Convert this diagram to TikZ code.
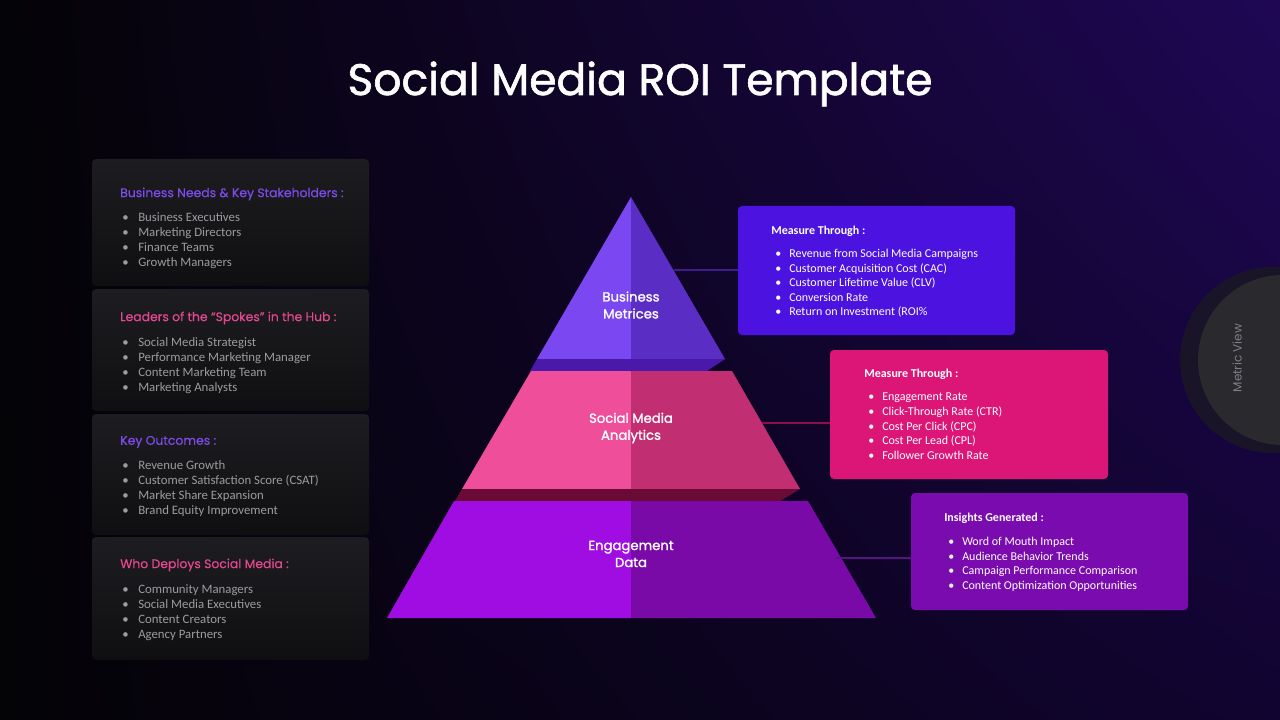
\documentclass[tikz,border=0pt]{standalone}
\usepackage{fontspec}
\setmainfont{Carlito}
\newfontfamily\headfont{Poppins}
\newfontfamily\midfont[FakeBold=1.4]{Poppins}
\newfontfamily\subfont[FakeBold=0.5]{Poppins}
\usepackage{xcolor}
\definecolor{cBgDark}{HTML}{040306}
\definecolor{cBgGlow}{HTML}{1F0755}
\definecolor{cBgLow}{HTML}{110430}
\definecolor{cCardTop}{HTML}{1D1C20}
\definecolor{cCardBot}{HTML}{0F0F11}
\definecolor{cHeadV}{HTML}{7C4BE8}
\definecolor{cHeadP}{HTML}{E2488F}
\definecolor{cItem}{HTML}{9C9CA0}
\definecolor{cBizL}{HTML}{7A47F0}
\definecolor{cBizR}{HTML}{5A2DC5}
\definecolor{cBizBand}{HTML}{4A19AA}
\definecolor{cSmaL}{HTML}{EF4E9B}
\definecolor{cSmaR}{HTML}{C22E72}
\definecolor{cSmaBand}{HTML}{6A0B35}
\definecolor{cEngL}{HTML}{A00DE2}
\definecolor{cEngR}{HTML}{7A0AA8}
\definecolor{cBizBox}{HTML}{4C12DF}
\definecolor{cSmaBox}{HTML}{DC1677}
\definecolor{cEngBox}{HTML}{7A0BAE}
\definecolor{cBizLine}{HTML}{3B1E8C}
\definecolor{cSmaLine}{HTML}{8A0F4C}
\definecolor{cEngLine}{HTML}{561480}
\definecolor{cRing}{HTML}{1A1429}
\definecolor{cDial}{HTML}{2A292D}
\definecolor{cDialText}{HTML}{7E7E86}
\usepackage{tikz}
\usetikzlibrary{positioning,fit,shadings}
\tikzset{
  card/.style={rounded corners=3pt,inner sep=0pt,
    top color=cCardTop,bottom color=cCardBot},
  card-head/.style={anchor=west,inner sep=0pt,
    font=\subfont\fontsize{9.3}{11}\selectfont},
  card-list/.style={anchor=north west,inner sep=0pt,align=left,text=cItem,
    font=\fontsize{9.6}{11.25}\selectfont},
  metric-box/.style={rounded corners=3pt,inner sep=0pt},
  box-head/.style={anchor=west,inner sep=0pt,text=white,
    font=\bfseries\fontsize{9}{11}\selectfont},
  box-list/.style={anchor=north west,inner sep=0pt,align=left,text=white,
    font=\fontsize{9}{10.9}\selectfont},
  tier-label/.style={align=center,text=white,inner sep=0pt,
    font=\midfont\fontsize{9.9}{12.75}\selectfont},
  link/.style={line width=1.2pt},
}
\newcommand{\cardit}[1]{\makebox[12pt][l]{\textbullet}#1}
\newcommand{\boxit}[1]{\makebox[10.5pt][l]{\textbullet}#1}

\begin{document}
\begin{tikzpicture}[x=0.75pt,y=-0.75pt]
  \useasboundingbox (0,0) rectangle (1280,720);
  \clip (0,0) rectangle (1280,720);
  % background
  \shade[upper left=cBgDark,upper right=cBgGlow,lower left=cBgDark,lower right=cBgLow]
    (0,0) rectangle (1280,720);

  \node[text=white,anchor=base,font=\midfont\fontsize{33}{38}\selectfont] (title)
    at (640,95) {Social Media ROI Template};

  % left cards
  \node[card,fit={(92,159) (369,286)}] (card1) {};
  \node[card,fit={(92,289) (369,411)}] (card2) {};
  \node[card,fit={(92,414) (369,535)}] (card3) {};
  \node[card,fit={(92,537) (369,660)}] (card4) {};

  \node[card-head,text=cHeadV] (card1-head) at (120,194) {Business Needs \& Key Stakeholders :};
  \node[card-list] (card1-list) at (122,212) {\cardit{Business Executives}\\
    \cardit{Marketing Directors}\\ \cardit{Finance Teams}\\ \cardit{Growth Managers}};
  \node[card-head,text=cHeadP] (card2-head) at (120,318) {Leaders of the “Spokes” in the Hub :};
  \node[card-list] (card2-list) at (122,337) {\cardit{Social Media Strategist}\\
    \cardit{Performance Marketing Manager}\\ \cardit{Content Marketing Team}\\
    \cardit{Marketing Analysts}};
  \node[card-head,text=cHeadV] (card3-head) at (120,442) {Key Outcomes :};
  \node[card-list] (card3-list) at (122,460) {\cardit{Revenue Growth}\\
    \cardit{Customer Satisfaction Score (CSAT)}\\ \cardit{Market Share Expansion}\\
    \cardit{Brand Equity Improvement}};
  \node[card-head,text=cHeadP] (card4-head) at (120,565) {Who Deploys Social Media :};
  \node[card-list] (card4-list) at (122,584) {\cardit{Community Managers}\\
    \cardit{Social Media Executives}\\ \cardit{Content Creators}\\ \cardit{Agency Partners}};

  % pyramid
  \fill[cBizL] (631,197) -- (537,359) -- (631,359) -- cycle;
  \fill[cBizR] (631,197) -- (725,359) -- (631,359) -- cycle;
  \fill[cBizBand] (537,359) -- (725,359) -- (707,371) -- (530,371) -- cycle;
  \fill[cSmaL] (531,371) -- (631,371) -- (631,489) -- (462,489) -- cycle;
  \fill[cSmaR] (631,371) -- (732,371) -- (800,489) -- (631,489) -- cycle;
  \fill[cSmaBand] (462,489) -- (800,489) -- (780,501) -- (455,501) -- cycle;
  \fill[cEngL] (454,501) -- (631,501) -- (631,618) -- (387,618) -- cycle;
  \fill[cEngR] (631,501) -- (808,501) -- (876,618) -- (631,618) -- cycle;

  \node[tier-label] (biz) at (631,305) {Business\\Metrices};
  \node[tier-label] (sma) at (631,428) {Social Media\\Analytics};
  \node[tier-label] (eng) at (631,554) {Engagement\\Data};

  % metric boxes
  \node[metric-box,fill=cBizBox,fit={(738,206) (1015,335)}] (biz-box) {};
  \node[metric-box,fill=cSmaBox,fit={(830,350) (1108,479)}] (sma-box) {};
  \node[metric-box,fill=cEngBox,fit={(911,493) (1188,610)}] (eng-box) {};

  \node[box-head] (biz-head) at (771,231) {Measure Through :};
  \node[box-list] (biz-list) at (775,249) {\boxit{Revenue from Social Media Campaigns}\\
    \boxit{Customer Acquisition Cost (CAC)}\\ \boxit{Customer Lifetime Value (CLV)}\\
    \boxit{Conversion Rate}\\ \boxit{Return on Investment (ROI\%}};
  \node[box-head] (sma-head) at (864,374) {Measure Through :};
  \node[box-list] (sma-list) at (868,393) {\boxit{Engagement Rate}\\
    \boxit{Click-Through Rate (CTR)}\\ \boxit{Cost Per Click (CPC)}\\
    \boxit{Cost Per Lead (CPL)}\\ \boxit{Follower Growth Rate}};
  \node[box-head] (eng-head) at (944,518) {Insights Generated :};
  \node[box-list] (eng-list) at (948,537) {\boxit{Word of Mouth Impact}\\
    \boxit{Audience Behavior Trends}\\ \boxit{Campaign Performance Comparison}\\
    \boxit{Content Optimization Opportunities}};

  % connectors
  \coordinate (biz-edge) at (674,270);
  \coordinate (sma-edge) at (762,423);
  \coordinate (eng-edge) at (836,558);
  \draw[link,cBizLine] (biz-edge) -- (biz-edge -| biz-box.west);
  \draw[link,cSmaLine] (sma-edge) -- (sma-edge -| sma-box.west);
  \draw[link,cEngLine] (eng-edge) -- (eng-edge -| eng-box.west);

  % metric view dial
  \node[circle,fill=cRing,minimum size=139.5pt,inner sep=0pt] (dial-ring) at (1273,360) {};
  \node[circle,fill=cDial,minimum size=127.5pt,inner sep=0pt] (dial) at (1283,360) {};
  \node[rotate=90,text=cDialText,font=\headfont\fontsize{9}{11}\selectfont] (dial-label)
    at (1237,358) {Metric View};
\end{tikzpicture}
\end{document}
